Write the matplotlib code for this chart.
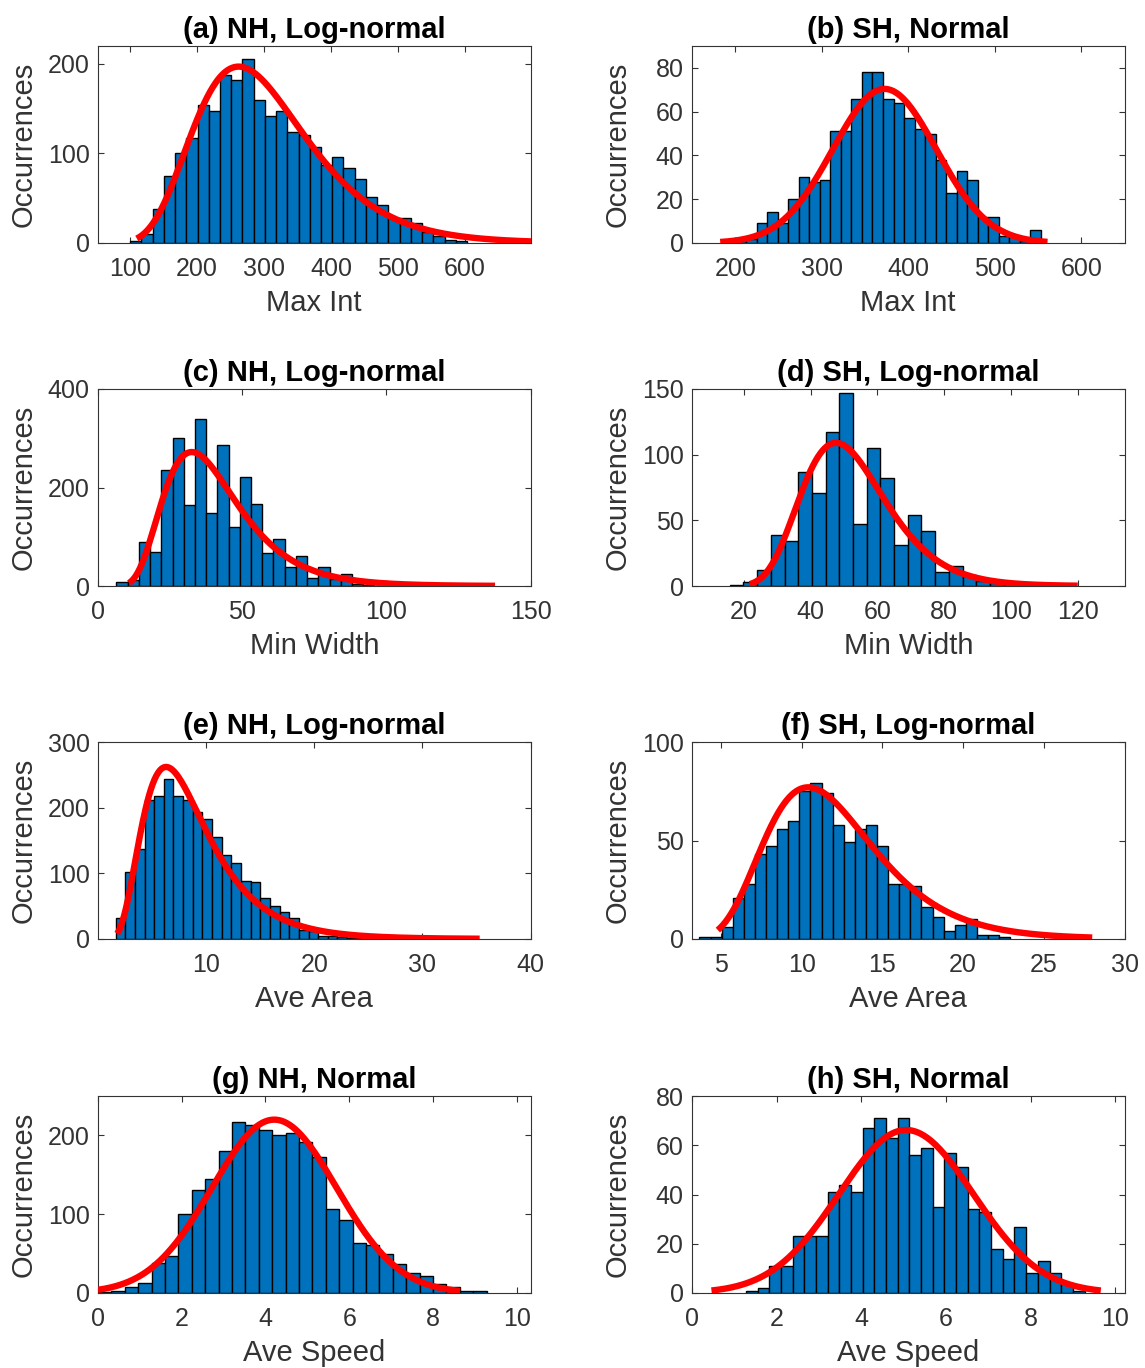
import numpy as np
import matplotlib
matplotlib.use('Agg')
import matplotlib.pyplot as plt

plt.rcParams['font.family'] = ['Liberation Sans', 'DejaVu Sans']

# ---- histogram data (bin start, bin width, counts) ----
a_start, a_width = 100.0, 16.77
a_counts = [2, 10, 38, 75, 100, 117, 154, 147, 188, 182, 205, 160, 142, 147, 124,
            121, 107, 87, 96, 84, 72, 51, 42, 28, 28, 22, 12, 8, 3, 2]

b_start, b_width = 188.4, 12.16
b_counts = [1, 1, 2, 9, 14, 9, 20, 30, 28, 29, 51, 51, 66, 78, 78,
            66, 64, 57, 52, 50, 38, 23, 33, 29, 12, 12, 3, 3, 1, 6]

c_start, c_width = 6.4, 3.89
c_counts = [8, 12, 90, 70, 236, 300, 164, 339, 148, 287, 119, 222, 167, 67, 96,
            38, 60, 16, 38, 14, 25, 5, 2, 1]

d_start, d_width = 15.8, 4.1
d_counts = [1, 3, 12, 39, 34, 87, 71, 117, 147, 47, 105, 82, 31, 54, 42,
            11, 15, 8, 4, 2, 1]

e_start, e_width = 1.63, 0.892
e_counts = [32, 102, 137, 212, 218, 243, 218, 211, 193, 183, 156, 128, 115, 89, 87,
            63, 50, 41, 32, 13, 12, 5, 5, 3, 2, 1]

f_start, f_width = 3.66, 0.688
f_counts = [1, 1, 6, 21, 28, 43, 47, 56, 60, 75, 79, 74, 58, 49, 56,
            58, 47, 28, 28, 27, 16, 11, 4, 7, 10, 2, 2, 1]

g_start, g_width = 0.0, 0.32
g_counts = [1, 2, 7, 13, 38, 47, 100, 131, 145, 180, 217, 213, 207, 201, 203,
            191, 173, 107, 93, 64, 61, 50, 37, 25, 22, 12, 8, 3, 2]

h_start, h_width = 1.277, 0.2758
h_counts = [1, 2, 11, 11, 23, 23, 23, 41, 44, 41, 67, 71, 63, 71, 56,
            59, 35, 57, 51, 34, 33, 18, 14, 27, 8, 13, 8, 4, 1]

# ---- fitted curves: (kind, centre/mode, spread, peak height, x from, x to) ----
a_fit = ('lognormal', 262, 0.32, 197, 110, 700)
b_fit = ('normal', 372.6, 60, 70.4, 182.6, 561)
c_fit = ('lognormal', 32.5, 0.40, 272, 10.8, 137.7)
d_fit = ('lognormal', 47.6, 0.265, 109, 21.8, 120)
e_fit = ('lognormal', 6.3, 0.48, 262, 1.78, 35.3)
f_fit = ('lognormal', 10.4, 0.325, 77, 4.8, 28.0)
g_fit = ('normal', 4.21, 1.49, 220, 0.0, 8.65)
h_fit = ('normal', 5.06, 1.59, 66.2, 0.46, 9.66)

titles = ['(a) NH, Log-normal', '(b) SH, Normal',
          '(c) NH, Log-normal', '(d) SH, Log-normal',
          '(e) NH, Log-normal', '(f) SH, Log-normal',
          '(g) NH, Normal', '(h) SH, Normal']
xlabels = ['Max Int', 'Max Int', 'Min Width', 'Min Width',
           'Ave Area', 'Ave Area', 'Ave Speed', 'Ave Speed']

xlims = [(52, 698), (150, 650), (0, 150), (4.5, 134), (0, 40), (3.2, 30), (0, 10.33), (0, 10.22)]
ylims = [220, 90, 400, 150, 300, 100, 250, 80]
xticks = [np.arange(100, 601, 100), np.arange(200, 601, 100), [0, 50, 100, 150],
          np.arange(20, 121, 20), [10, 20, 30, 40], np.arange(5, 31, 5),
          np.arange(0, 11, 2), np.arange(0, 11, 2)]
yticks = [[0, 100, 200], np.arange(0, 81, 20), [0, 200, 400], [0, 50, 100, 150],
          [0, 100, 200, 300], [0, 50, 100], [0, 100, 200], np.arange(0, 81, 20)]

hists = [(a_start, a_width, a_counts), (b_start, b_width, b_counts),
         (c_start, c_width, c_counts), (d_start, d_width, d_counts),
         (e_start, e_width, e_counts), (f_start, f_width, f_counts),
         (g_start, g_width, g_counts), (h_start, h_width, h_counts)]
fits = [a_fit, b_fit, c_fit, d_fit, e_fit, f_fit, g_fit, h_fit]

dark = '#333333'
fig = plt.figure(figsize=(11.45, 13.68), dpi=100)

lefts = [98 / 1145, 692 / 1145]
bottoms = [1125 / 1368, 782 / 1368, 429 / 1368, 75 / 1368]
w, h = 432.5 / 1145, 197 / 1368

for i in range(8):
    ax = fig.add_axes([lefts[i % 2], bottoms[i // 2], w, h])
    start, width, counts = hists[i]
    counts = np.array(counts)
    bin_lefts = start + width * np.arange(len(counts))
    ax.bar(bin_lefts, counts, width=width, align='edge', color='#0072BD',
           edgecolor='black', linewidth=1.0, zorder=2)

    kind, c0, s, peak, x0, x1 = fits[i]
    x = np.linspace(x0, x1, 400)
    if kind == 'normal':
        y = peak * np.exp(-(x - c0) ** 2 / (2 * s ** 2))
    else:
        # log-normal pdf is a gaussian in ln(x) centred on ln(mode); scaled to peak
        y = peak * np.exp(-(np.log(x) - np.log(c0)) ** 2 / (2 * s ** 2))
    ax.plot(x, y, color='red', linewidth=4.6, zorder=3, solid_capstyle='butt')

    ax.set_xlim(*xlims[i])
    ax.set_ylim(0, ylims[i])
    ax.set_xticks(xticks[i])
    ax.set_yticks(yticks[i])
    ax.tick_params(direction='in', top=True, right=True, length=4, width=0.8,
                   labelsize=18, colors=dark)
    ax.tick_params(axis='x', pad=10)
    ax.tick_params(axis='y', pad=6)
    for sp in ax.spines.values():
        sp.set_color(dark)
        sp.set_linewidth(0.8)
    ax.set_title(titles[i], fontsize=21, fontweight='bold', color='black', pad=6)
    ax.set_xlabel(xlabels[i], fontsize=21, color=dark, labelpad=6)
    ax.set_ylabel('Occurrences', fontsize=21, color=dark)
    ax.yaxis.set_label_coords(-0.14, 0.5)

fig.savefig('out.png', dpi=100)
